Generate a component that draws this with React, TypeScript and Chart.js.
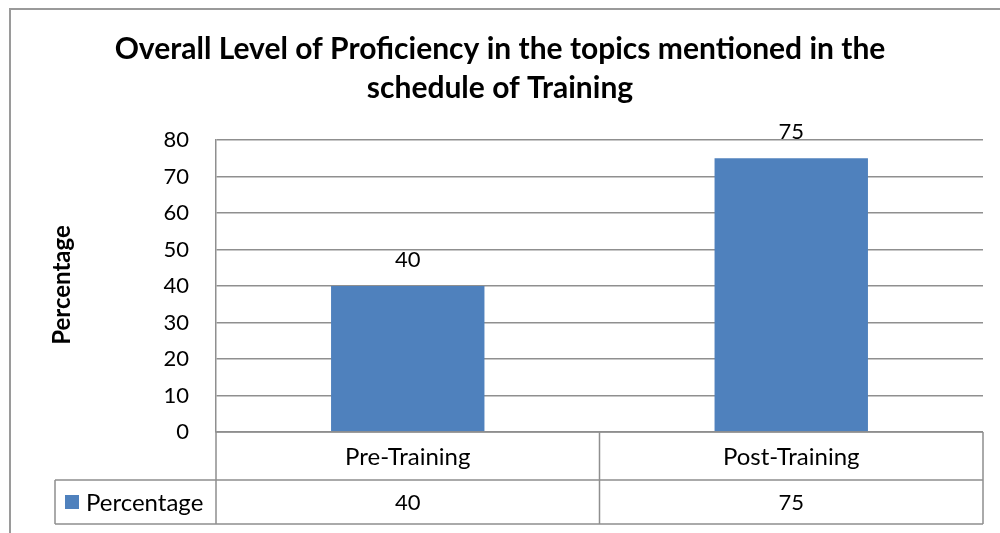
import React, { useEffect, useRef } from "react";
import { Chart, registerables } from "chart.js";

Chart.register(...registerables);

const titleLines = ["Overall Level of Proficiency in the topics mentioned in the", "schedule of Training"];
const categories = ["Pre-Training", "Post-Training"];
const seriesName = "Percentage";
const values = [40, 75];
const yTicks = [0, 10, 20, 30, 40, 50, 60, 70, 80];
const yAxisTitle = "Percentage";

const FONT = "Lato, 'Open Sans', sans-serif";
const BAR = "#4F81BD";
const LINE = "#8f8f8f";

const decorPlugin = {
  id: "decor",
  afterDraw(chart: any) {
    const { ctx, chartArea } = chart;
    const x = chart.scales.x;
    ctx.save();
    // outer frame
    ctx.strokeStyle = "#9a9a9a";
    ctx.lineWidth = 2;
    ctx.beginPath();
    ctx.moveTo(10, 540);
    ctx.lineTo(10, 9);
    ctx.lineTo(1002, 9);
    ctx.stroke();

    // title
    ctx.fillStyle = "#000";
    ctx.textAlign = "center";
    ctx.textBaseline = "middle";
    ctx.font = `bold 30px ${FONT}`;
    ctx.fillText(titleLines[0], 500, 49);
    ctx.fillText(titleLines[1], 500, 88);

    // y axis title
    ctx.save();
    ctx.translate(62, 285);
    ctx.rotate(-Math.PI / 2);
    ctx.font = `bold 24px ${FONT}`;
    ctx.fillText(yAxisTitle, 0, 0);
    ctx.restore();

    // data labels
    const meta = chart.getDatasetMeta(0);
    ctx.font = `22px ${FONT}`;
    meta.data.forEach((bar: any, i: number) => {
      ctx.fillText(String(values[i]), bar.x, bar.y - 26);
    });

    // data table
    const top = chartArea.bottom;
    const r1 = top + 48;
    const r2 = r1 + 44;
    const left = chartArea.left;
    const right = chartArea.right;
    const legendLeft = 55;
    const pts = categories.map((_, i) => x.getPixelForValue(i));
    const dividers = [left];
    for (let i = 0; i < pts.length - 1; i++) dividers.push((pts[i] + pts[i + 1]) / 2);
    dividers.push(right);

    ctx.strokeStyle = LINE;
    ctx.lineWidth = 1.5;
    ctx.beginPath();
    ctx.moveTo(left, top);
    ctx.lineTo(right, top);
    ctx.moveTo(legendLeft, r1);
    ctx.lineTo(right, r1);
    ctx.moveTo(legendLeft, r2);
    ctx.lineTo(right, r2);
    ctx.moveTo(legendLeft, r1);
    ctx.lineTo(legendLeft, r2);
    dividers.forEach((d) => {
      ctx.moveTo(d, top);
      ctx.lineTo(d, r2);
    });
    ctx.stroke();

    ctx.fillStyle = "#000";
    ctx.font = `24px ${FONT}`;
    categories.forEach((c, i) => {
      ctx.fillText(c, pts[i], (top + r1) / 2 + 1);
    });
    ctx.font = `22px ${FONT}`;
    values.forEach((v, i) => {
      ctx.fillText(String(v), pts[i], (r1 + r2) / 2 + 1);
    });
    // legend key
    ctx.fillStyle = BAR;
    ctx.fillRect(65, (r1 + r2) / 2 - 7, 14, 14);
    ctx.fillStyle = "#000";
    ctx.textAlign = "left";
    ctx.font = `24px ${FONT}`;
    ctx.fillText(seriesName, 86, (r1 + r2) / 2 + 1);
    ctx.restore();
  },
};

export default function App() {
  const ref = useRef<HTMLCanvasElement>(null);
  useEffect(() => {
    document.body.style.margin = "0";
    const chart = new Chart(ref.current!, {
      type: "bar",
      data: {
        labels: categories,
        datasets: [
          {
            label: seriesName,
            data: values,
            backgroundColor: BAR,
            borderWidth: 0,
            categoryPercentage: 1,
            barPercentage: 0.4,
          },
        ],
      },
      options: {
        responsive: false,
        animation: false,
        layout: { padding: { top: 140, right: 17, bottom: 101, left: 0 } },
        plugins: { legend: { display: false }, title: { display: false }, tooltip: { enabled: false } },
        scales: {
          x: { display: false, offset: true },
          y: {
            min: 0,
            max: 80,
            afterBuildTicks: (s: any) => {
              s.ticks = yTicks.map((v) => ({ value: v }));
            },
            afterFit: (s: any) => {
              s.width = 216;
            },
            ticks: { color: "#000", font: { family: FONT, size: 22 }, padding: 27 },
            grid: { color: LINE, lineWidth: 1.5, drawTicks: false },
            border: { display: true, color: LINE, width: 1.5 },
          },
        },
      },
      plugins: [decorPlugin],
    });
    return () => chart.destroy();
  }, []);
  return (
    <div style={{ width: 1000, height: 533 }}>
      <canvas ref={ref} width={1000} height={533} />
    </div>
  );
}
